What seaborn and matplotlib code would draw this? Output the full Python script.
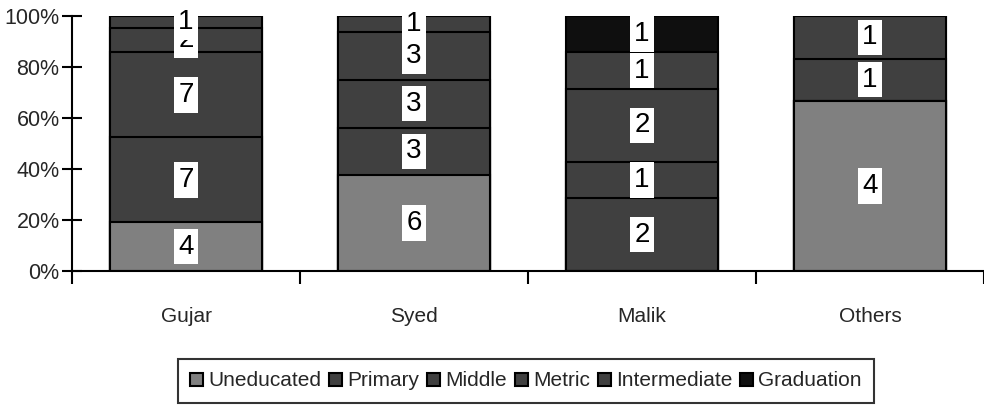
import numpy as np
import pandas as pd
import matplotlib
matplotlib.use("Agg")
import matplotlib.pyplot as plt
from matplotlib.patches import Patch
from matplotlib.ticker import PercentFormatter, FixedLocator
import seaborn as sns

# Respondent counts by caste and education level
castes = ["Gujar", "Syed", "Malik", "Others"]
levels = ["Uneducated", "Primary", "Middle", "Metric", "Intermediate", "Graduation"]
uneducated = [4, 6, 0, 4]
primary = [7, 3, 2, 0]
middle = [7, 3, 1, 0]
metric = [2, 3, 2, 1]
intermediate = [1, 1, 1, 1]
graduation = [0, 0, 1, 0]
level_colors = ["#808080", "#404040", "#404040", "#404040", "#404040", "#0f0f0f"]

counts = pd.DataFrame(
    [uneducated, primary, middle, metric, intermediate, graduation],
    index=levels, columns=castes,
)
share = counts / counts.sum(axis=0)
top = share.cumsum(axis=0)
base = top - share

sns.set_theme(style="white")
plt.rcParams["font.family"] = ["Liberation Sans", "DejaVu Sans"]

fig = plt.figure(figsize=(9.84, 4.05), dpi=100)
ax = fig.add_axes([72 / 984, 1 - 271 / 405, 912 / 984, 255 / 405])

# Stack by drawing cumulative totals, tallest first
for lvl, col in reversed(list(zip(levels, level_colors))):
    df = pd.DataFrame({"caste": castes, "cum": top.loc[lvl].values})
    sns.barplot(data=df, x="caste", y="cum", order=castes, color=col,
                width=0.67, edgecolor="black", linewidth=1.5,
                saturation=1, ax=ax, zorder=2)

# Count labels centred in each segment
z = 5
for lvl in levels:
    for i, c in enumerate(castes):
        n = counts.loc[lvl, c]
        if n == 0:
            continue
        yc = base.loc[lvl, c] + share.loc[lvl, c] / 2
        ax.text(i, yc, str(n), ha="center", va="center", fontsize=20,
                color="black", zorder=z, clip_on=False,
                bbox=dict(boxstyle="square,pad=0.17", fc="white", ec="none"))
        z += 1

ax.set_xlim(-0.5, len(castes) - 0.5)
ax.set_ylim(0, 1)
ax.yaxis.set_major_locator(FixedLocator(np.linspace(0, 1, 6)))
ax.yaxis.set_major_formatter(PercentFormatter(1.0, decimals=0))
ax.set_xlabel("")
ax.set_ylabel("")

for s in ["top", "right"]:
    ax.spines[s].set_visible(False)
for s in ["left", "bottom"]:
    ax.spines[s].set_color("black")
    ax.spines[s].set_linewidth(1.5)

ax.tick_params(axis="y", which="major", left=True, direction="inout",
               length=14, width=1.5, color="black", labelsize=15.5, pad=2)
ax.tick_params(axis="x", which="major", bottom=True, length=0,
               labelsize=15, pad=26)
ax.set_xticks(np.arange(-0.5, len(castes)), minor=True)
ax.tick_params(axis="x", which="minor", bottom=True, direction="out",
               length=9, width=1.5, color="black")

handles = [Patch(facecolor=c, edgecolor="black", linewidth=1.5, label=l)
           for l, c in zip(levels, level_colors)]
leg = fig.legend(handles=handles, loc="center", ncol=6,
                 bbox_to_anchor=(526 / 984, 1 - 381 / 405),
                 fontsize=15, frameon=True, fancybox=False,
                 handlelength=0.6, handleheight=0.6, handletextpad=0.25,
                 columnspacing=0.4, borderpad=0.6, borderaxespad=0)
leg.get_frame().set_edgecolor("black")
leg.get_frame().set_linewidth(1.5)

fig.savefig("out.png", dpi=100, facecolor="white")
